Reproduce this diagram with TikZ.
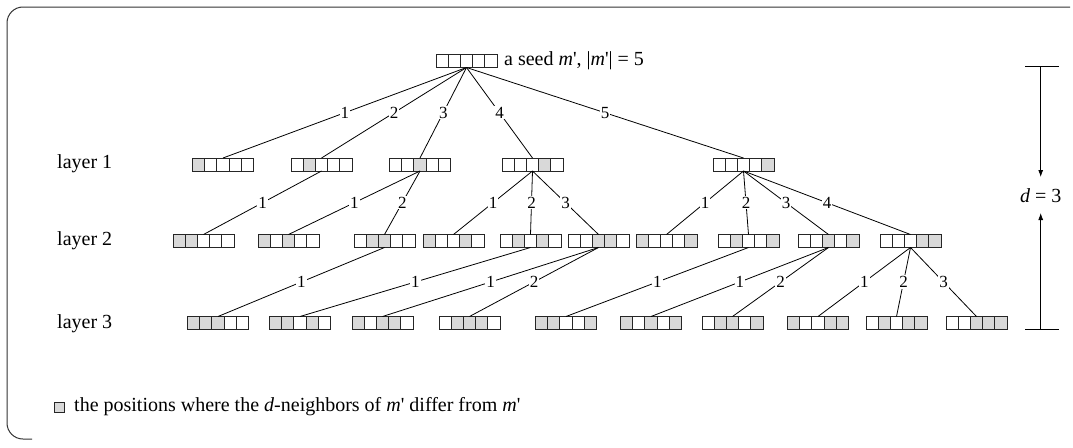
\documentclass[tikz,border=0pt]{standalone}
\usepackage{fontspec}
\setmainfont{Liberation Serif}
\usetikzlibrary{arrows.meta}
\definecolor{cellgray}{HTML}{D9D9D9}
\tikzset{
  x=1pt, y=-1pt,
  seq/.style={draw=none, minimum width=61pt, minimum height=13pt, inner sep=0pt, outer sep=0pt},
  cellout/.style={draw=black!85, line width=0.9pt},
  tree/.style={draw=black, line width=0.8pt},
  elabel/.style={fill=white, inner sep=1pt, font=\fontsize{17}{17}\selectfont},
  txt/.style={font=\fontsize{20}{20}\selectfont, inner sep=0pt},
  frame/.style={draw=black!80, line width=1pt, rounded corners=16pt},
  scalebar/.style={draw=black, line width=1pt},
  scalearrow/.style={draw=black, line width=0.8pt, -{Latex[length=7pt,width=5pt]}},
}
\newcommand\cellbox[4]{%
  \node[seq] (#1) at (#2,#3) {};
  \foreach \k in {#4}{\ifnum\k>0 \fill[cellgray] ([xshift={(\k-1)*12.2pt}]#1.north west) rectangle ++(12.2,13);\fi}
  \foreach \k in {1,...,4}{\draw[cellout] ([xshift={\k*12.2pt}]#1.north west) -- ++(0,13);}
  \draw[cellout] (#1.north west) rectangle (#1.south east);
}
\newcommand\treeedge[3]{\draw[tree] (#1.south) -- node[elabel]{#3} (#2.north);}
\begin{document}
\begin{tikzpicture}
\useasboundingbox (0,0) rectangle (1073,447);
% frame
\draw[frame] (32,439) -- (7,439) -- (7,7) -- (1070,7);
% seed
\cellbox{s}{466.5}{61}{0}
\node[txt, anchor=west] (seedtxt) at (504,61) {a seed \textit{m}\textquotesingle, |\textit{m}\textquotesingle| = 5};
% layer labels
\node[txt, anchor=west] (lay1) at (57,164) {layer 1};
\node[txt, anchor=west] (lay2) at (57,241) {layer 2};
\node[txt, anchor=west] (lay3) at (57,324) {layer 3};
% layer 1
\cellbox{a1}{223}{164.5}{1}
\cellbox{a2}{321.5}{164.5}{2}
\cellbox{a3}{420}{164.5}{3}
\cellbox{a4}{532.5}{164.5}{4}
\cellbox{a5}{743.5}{164.5}{5}
% layer 2
\cellbox{b12}{203.5}{241}{1,2}
\cellbox{b13}{288.5}{241}{1,3}
\cellbox{b23}{384.5}{241}{2,3}
\cellbox{b14}{453.5}{241}{1,4}
\cellbox{b24}{530.5}{241}{2,4}
\cellbox{b34}{598.5}{241}{3,4}
\cellbox{b15}{666.5}{241}{1,5}
\cellbox{b25}{748.5}{241}{2,5}
\cellbox{b35}{828.5}{241}{3,5}
\cellbox{b45}{910.5}{241}{4,5}
% layer 3
\cellbox{c123}{218}{323}{1,2,3}
\cellbox{c124}{300}{323}{1,2,4}
\cellbox{c134}{382.5}{323}{1,3,4}
\cellbox{c234}{469.5}{323}{2,3,4}
\cellbox{c125}{566}{323}{1,2,5}
\cellbox{c135}{651}{323}{1,3,5}
\cellbox{c235}{732.5}{323}{2,3,5}
\cellbox{c145}{818}{323}{1,4,5}
\cellbox{c245}{896.5}{323}{2,4,5}
\cellbox{c345}{976.5}{323}{3,4,5}
% edges seed -> layer 1
\treeedge{s}{a1}{1}
\treeedge{s}{a2}{2}
\treeedge{s}{a3}{3}
\treeedge{s}{a4}{4}
\treeedge{s}{a5}{5}
% layer 1 -> layer 2
\treeedge{a2}{b12}{1}
\treeedge{a3}{b13}{1}
\treeedge{a3}{b23}{2}
\treeedge{a4}{b14}{1}
\treeedge{a4}{b24}{2}
\treeedge{a4}{b34}{3}
\treeedge{a5}{b15}{1}
\treeedge{a5}{b25}{2}
\treeedge{a5}{b35}{3}
\treeedge{a5}{b45}{4}
% layer 2 -> layer 3
\treeedge{b23}{c123}{1}
\treeedge{b24}{c124}{1}
\treeedge{b34}{c134}{1}
\treeedge{b34}{c234}{2}
\treeedge{b25}{c125}{1}
\treeedge{b35}{c135}{1}
\treeedge{b35}{c235}{2}
\treeedge{b45}{c145}{1}
\treeedge{b45}{c245}{2}
\treeedge{b45}{c345}{3}
% depth scale
\coordinate (tbl) at (1025,66);
\coordinate (tbr) at (1059,66);
\coordinate (tbm) at (1040.7,66);
\coordinate (bbl) at (1025,329);
\coordinate (bbr) at (1059,329);
\coordinate (bbm) at (1040.7,329);
\coordinate (dtip) at (1040.7,177);
\coordinate (utip) at (1040.7,213);
\draw[scalebar] (tbl) -- (tbr);
\draw[scalebar] (bbl) -- (bbr);
\node[txt] (dlab) at (1040.7,195.5) {\textit{d} = 3};
\draw[scalearrow] (tbm) -- (dtip);
\draw[scalearrow] (bbm) -- (utip);
% legend
\node[draw=black!85, line width=0.8pt, fill=cellgray, minimum size=10pt, inner sep=0pt] (legsq) at (59,407) {};
\node[txt, anchor=west] (legtxt) at (74,407) {the positions where the \textit{d}-neighbors of \textit{m}\textquotesingle\ differ from \textit{m}\textquotesingle};
\end{tikzpicture}
\end{document}
